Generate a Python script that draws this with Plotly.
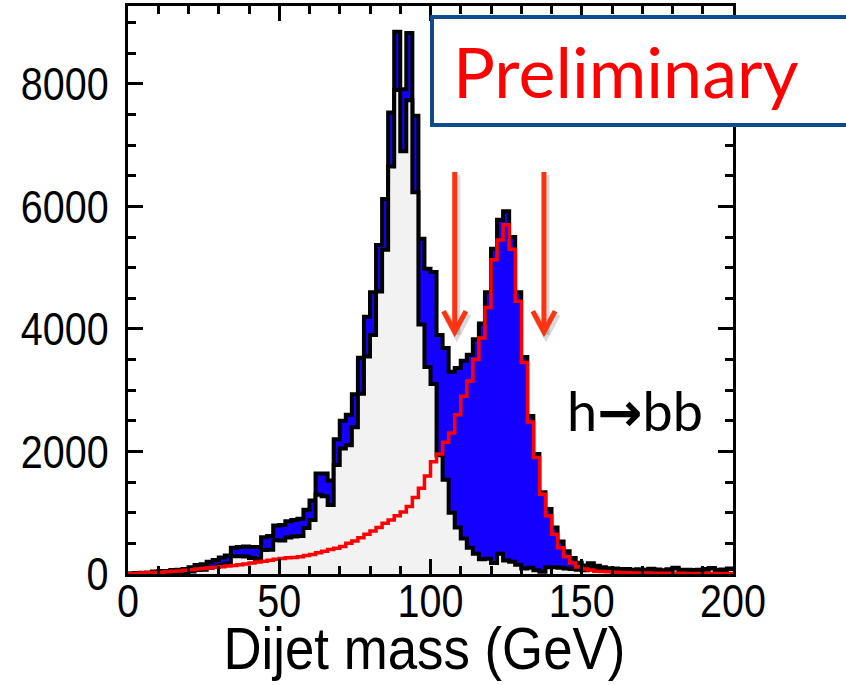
import numpy as np
import plotly.graph_objects as go

# ---- data (2 GeV bins, 0-200 GeV) ----
bin_edges = list(range(0, 202, 2))

background = [5, 5, 5, 5, 15, 20, 15, 20, 20, 20,
              40, 65, 70, 100, 120, 150, 170, 290, 290, 285,
              260, 245, 390, 395, 550, 545, 595, 610, 620, 750,
              880, 1295, 1270, 1125, 1780, 2050, 2100, 2395, 2940, 3550,
              3900, 4610, 5290, 6650, 7900, 6900, 7730, 6230, 4070, 3380,
              3100, 1940, 1540, 1000, 760, 580, 430, 330, 240, 250,
              180, 330, 220, 200, 150, 90, 100, 60, 35, 110,
              110, 100, 90, 80, 70, 60, 110, 90, 70, 60,
              60, 55, 60, 50, 60, 55, 70, 60, 50, 65,
              90, 60, 60, 55, 60, 70, 90, 60, 65, 80]

signal = [5, 10, 15, 20, 25, 30, 35, 45, 50, 60,
          70, 80, 90, 100, 110, 120, 130, 140, 150, 165,
          180, 195, 210, 225, 240, 255, 265, 270, 280, 300,
          320, 345, 370, 400, 420, 450, 500, 540, 590, 650,
          700, 760, 830, 880, 950, 1010, 1100, 1250, 1400, 1600,
          1830, 1960, 2150, 2300, 2600, 2900, 3150, 3500, 3850, 4350,
          5130, 5450, 5700, 5300, 4450, 3450, 2480, 1900, 1300, 950,
          650, 430, 280, 180, 115, 80, 65, 45, 40, 35,
          30, 25, 20, 18, 16, 15, 14, 13, 12, 12,
          11, 11, 10, 10, 10, 10, 9, 9, 9, 8]

arrow_mass = [108, 137.5]
arrow_top = 6560
arrow_tip = 3950

x_ticks = [0, 50, 100, 150, 200]
y_ticks = [0, 2000, 4000, 6000, 8000]

# ---- figure ----
edges = np.array(bin_edges, dtype=float)
bkg = np.array(background, dtype=float)
sig = np.array(signal, dtype=float)
total = bkg + sig  # stacked histogram


def step(vals):
    return np.append(vals, vals[-1])


fig = go.Figure()
fig.add_trace(go.Scatter(x=edges, y=step(total), mode="lines",
                         line=dict(shape="hv", color="black", width=4),
                         fill="tozeroy", fillcolor="#1400FF",
                         hoverinfo="skip", showlegend=False))
fig.add_trace(go.Scatter(x=edges, y=step(bkg), mode="lines",
                         line=dict(shape="hv", color="black", width=4),
                         fill="tozeroy", fillcolor="#F2F2F2",
                         hoverinfo="skip", showlegend=False))
fig.add_trace(go.Scatter(x=edges, y=step(sig), mode="lines",
                         line=dict(shape="hv", color="#FF0000", width=3.5),
                         hoverinfo="skip", showlegend=False))

# arrows (soft shadow + arrow)
head_dx = 3.7
head_dy = 340
for xm in arrow_mass:
    for col, off_x, off_y, w in [("rgba(0,0,0,0.15)", 0.7, -50, 7), ("#FF3311", 0, 0, 5)]:
        fig.add_shape(type="line", xref="x", yref="y",
                      x0=xm + off_x, x1=xm + off_x,
                      y0=arrow_top + off_y, y1=arrow_tip + off_y,
                      line=dict(color=col, width=w), layer="above")
        fig.add_shape(type="path", xref="x", yref="y",
                      path=f"M {xm + off_x - head_dx},{arrow_tip + off_y + head_dy} "
                           f"L {xm + off_x},{arrow_tip + off_y} "
                           f"L {xm + off_x + head_dx},{arrow_tip + off_y + head_dy}",
                      line=dict(color=col, width=w), layer="above")

label_font = "Liberation Sans, Arial, sans-serif"
axis_common = dict(showline=True, linecolor="black", linewidth=3, mirror="ticks",
                   ticks="inside", tickwidth=3, ticklen=15, tickcolor="black",
                   showgrid=False, zeroline=False,
                   tickfont=dict(family=label_font, size=47, color="black"))

fig.update_xaxes(range=[0, 200], tickvals=x_ticks, ticktext=[str(v) for v in x_ticks],
                 minor=dict(dtick=10, ticks="inside", ticklen=8, tickwidth=3, tickcolor="black", showgrid=False),
                 ticklabelstandoff=-16, **axis_common)
fig.update_yaxes(range=[0, 9270], tickvals=y_ticks, ticktext=[str(v) for v in y_ticks],
                 minor=dict(dtick=500, ticks="inside", ticklen=8, tickwidth=3, tickcolor="black", showgrid=False),
                 ticklabelstandoff=7, **axis_common)

# x-axis title (index 0)
fig.add_annotation(text="Dijet mass (GeV)", xref="paper", yref="paper",
                   x=(424 - 128) / 605, y=(574 - 649) / 571, xanchor="center", yanchor="middle",
                   showarrow=False,
                   font=dict(family=label_font, size=60, color="black"))

# Preliminary box
fig.add_annotation(text=" ", xref="paper", yref="paper", x=(430 - 128) / 605, y=(574 - 12) / 571,
                   xanchor="left", yanchor="top", showarrow=False, width=420, height=104,
                   bgcolor="white", bordercolor="#0F4C8C", borderwidth=4, borderpad=0)
fig.add_annotation(text="Preliminary", xref="paper", yref="paper", x=(626 - 128) / 605, y=(574 - 68) / 571,
                   xanchor="center", yanchor="middle", showarrow=False,
                   font=dict(family="Lato, Open Sans, sans-serif", size=70, color="#FF0000"))

# h->bb label
fig.add_annotation(text="h<span style='font-family:DejaVu Sans'><b>→</b></span>bb",
                   xref="paper", yref="paper", x=(635 - 128) / 605, y=(574 - 410) / 571,
                   xanchor="center", yanchor="middle", showarrow=False,
                   font=dict(family="Lato, DejaVu Sans, sans-serif", size=54, color="black"))

fig.update_layout(width=846, height=685, margin=dict(l=128, r=113, t=3, b=111),
                  paper_bgcolor="white", plot_bgcolor="white")

post = """
document.body.style.margin='0px';
var gd = document.getElementById('{plot_id}');
function squeeze(el, f) {
  var w = el.getComputedTextLength();
  el.setAttribute('lengthAdjust', 'spacingAndGlyphs');
  el.setAttribute('textLength', (w * f).toFixed(1));
}
gd.querySelectorAll('.xtick > text, .ytick > text').forEach(function (t) { squeeze(t, 0.84); });
gd.querySelectorAll('.annotation[data-index="0"] text').forEach(function (t) { squeeze(t, 0.88); });
"""

fig.write_html("out.html", config={"displayModeBar": False}, post_script=post)
